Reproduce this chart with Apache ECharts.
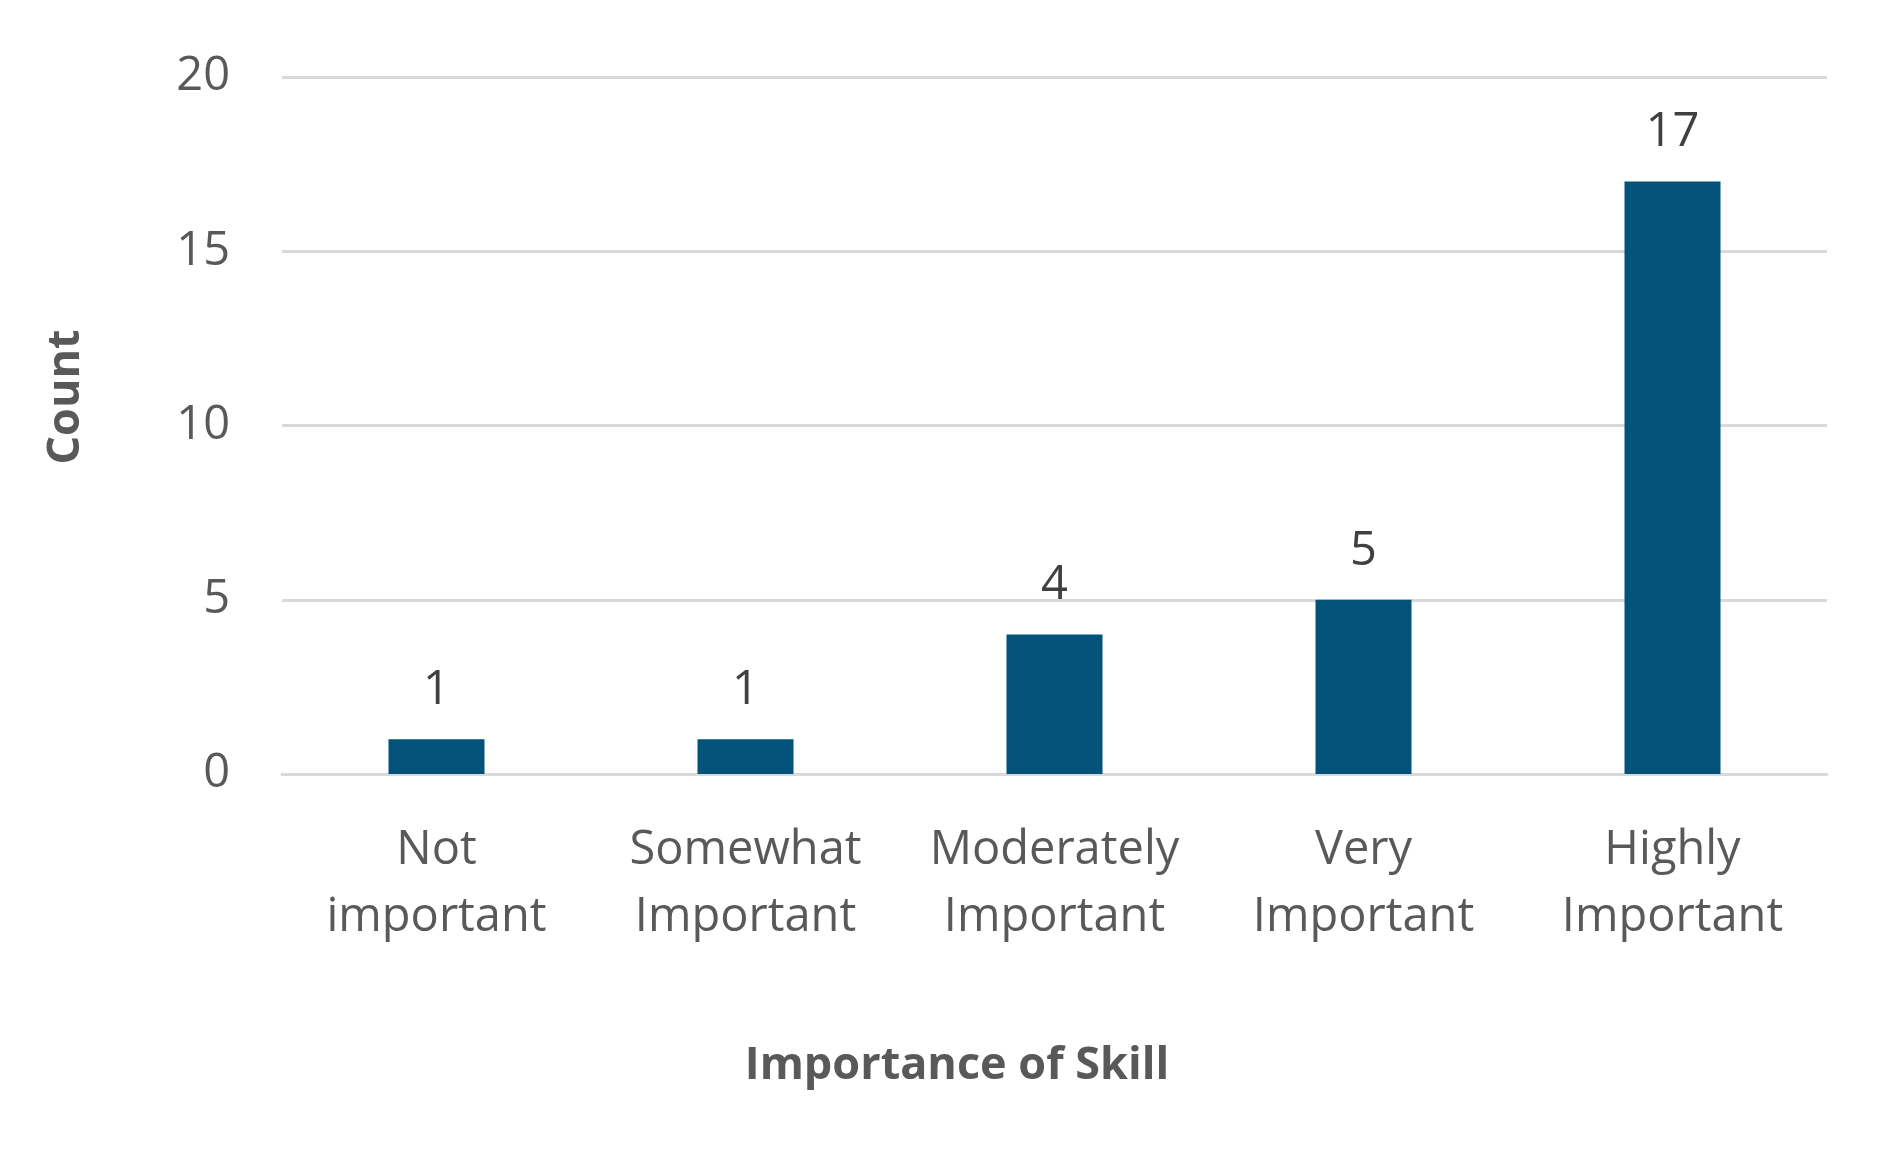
<!DOCTYPE html>
<html>
<head>
<meta charset="utf-8">
<script src="https://cdn.jsdelivr.net/npm/echarts@6/dist/echarts.min.js"></script>
<style>
html,body{margin:0;padding:0;background:#fff;}
#c{width:1885px;height:1159px;}
</style>
</head>
<body>
<div id="c"></div>
<script>
const categories = ['Not\nimportant', 'Somewhat\nImportant', 'Moderately\nImportant', 'Very\nImportant', 'Highly\nImportant'];
const counts = [1, 1, 4, 5, 17];
const yTicks = [0, 5, 10, 15, 20];
const xTitle = 'Importance of Skill';
const yTitle = 'Count';

const FONT = 'Open Sans';
const chart = echarts.init(document.getElementById('c'));
chart.setOption({
  backgroundColor: '#ffffff',
  animation: false,
  grid: { left: 282, right: 58, top: 77, bottom: 385, containLabel: false },
  xAxis: {
    type: 'category',
    data: categories,
    axisLine: { show: true, lineStyle: { color: '#d9d9d9', width: 3 } },
    axisTick: { show: false },
    axisLabel: { color: '#595959', fontFamily: FONT, fontSize: 47, lineHeight: 67, margin: 43, interval: 0 }
  },
  yAxis: {
    type: 'value',
    min: yTicks[0],
    max: yTicks[yTicks.length - 1],
    interval: yTicks[1] - yTicks[0],
    axisLine: { show: false },
    axisTick: { show: false },
    splitLine: { lineStyle: { color: '#d9d9d9', width: 3 } },
    axisLabel: { color: '#595959', fontFamily: FONT, fontSize: 47, margin: 52 }
  },
  series: [{
    type: 'bar',
    data: counts,
    barWidth: 96,
    itemStyle: { color: '#02527a' },
    label: { show: true, position: 'top', distance: 25, color: '#404040', fontFamily: FONT, fontSize: 47 }
  }],
  graphic: [
    { type: 'text', x: 957, y: 1066, style: { text: xTitle, font: 'bold 45px "Open Sans"', fill: '#595959', textAlign: 'center', textVerticalAlign: 'middle' } },
    { type: 'text', x: 66, y: 397, rotation: Math.PI / 2, style: { text: yTitle, font: 'bold 45px "Open Sans"', fill: '#595959', textAlign: 'center', textVerticalAlign: 'middle' } }
  ]
});
</script>
</body>
</html>
